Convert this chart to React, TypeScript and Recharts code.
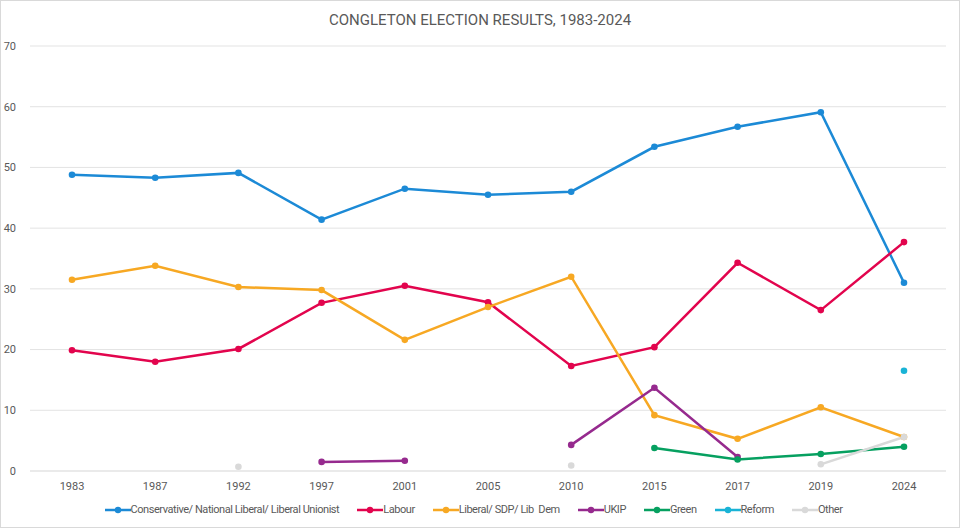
import React from "react";
import {
  LineChart,
  Line,
  XAxis,
  YAxis,
  CartesianGrid,
  Legend,
} from "recharts";

const years = ["1983", "1987", "1992", "1997", "2001", "2005", "2010", "2015", "2017", "2019", "2024"];

const conservative = [48.8, 48.3, 49.1, 41.4, 46.5, 45.5, 46.0, 53.4, 56.7, 59.1, 31.0];
const labour = [19.9, 18.0, 20.1, 27.7, 30.5, 27.8, 17.3, 20.4, 34.3, 26.5, 37.7];
const libDem = [31.5, 33.8, 30.3, 29.8, 21.6, 27.0, 32.0, 9.2, 5.3, 10.5, 5.6];
const ukip = [null, null, null, 1.5, 1.7, null, 4.3, 13.7, 2.3, null, null];
const green = [null, null, null, null, null, null, null, 3.8, 1.9, 2.8, 4.0];
const reform = [null, null, null, null, null, null, null, null, null, null, 16.5];
const other = [null, null, 0.7, null, null, null, 0.9, null, null, 1.1, 5.6];

const yTicks = [0, 10, 20, 30, 40, 50, 60, 70];

const series = [
  { key: "con", name: "Conservative/ National Liberal/ Liberal Unionist", color: "#1c8ad6", values: conservative },
  { key: "lab", name: "Labour", color: "#e2044d", values: labour },
  { key: "ld", name: "Liberal/ SDP/ Lib  Dem", color: "#f7a823", values: libDem },
  { key: "ukip", name: "UKIP", color: "#962a8e", values: ukip },
  { key: "green", name: "Green", color: "#06a060", values: green },
  { key: "reform", name: "Reform", color: "#19b3d6", values: reform },
  { key: "other", name: "Other", color: "#d9d9d9", values: other },
];

const data = years.map((year, i) => {
  const row: Record<string, string | number | null> = { year };
  series.forEach((s) => {
    row[s.key] = s.values[i];
  });
  return row;
});

const font = "Roboto, sans-serif";

function LegendContent() {
  return (
    <div
      style={{
        display: "flex",
        justifyContent: "center",
        gap: 18,
        fontFamily: font,
        fontSize: 11,
        letterSpacing: -0.45,
        color: "#595959",
        whiteSpace: "pre",
      }}
    >
      {series.map((s) => (
        <div key={s.key} style={{ display: "flex", alignItems: "center" }}>
          <svg width={26} height={8}>
            <line x1={0} y1={4} x2={26} y2={4} stroke={s.color} strokeWidth={2.5} />
            <circle cx={13} cy={4} r={3.2} fill={s.color} />
          </svg>
          <span>{s.name}</span>
        </div>
      ))}
    </div>
  );
}

export default function App() {
  return (
    <div
      style={{
        position: "fixed",
        left: 0,
        top: 0,
        width: 960,
        height: 528,
        background: "#fff",
        boxSizing: "border-box",
        border: "1px solid #d9d9d9",
      }}
    >
      <div
        style={{
          position: "absolute",
          top: 10,
          width: "100%",
          textAlign: "center",
          fontFamily: font,
          fontSize: 15,
          color: "#595959",
        }}
      >
        CONGLETON ELECTION RESULTS, 1983-2024
      </div>
      <LineChart
        width={958}
        height={526}
        data={data}
        margin={{ top: 45, right: 13, bottom: 11, left: 0 }}
      >
        <CartesianGrid vertical={false} stroke="#e3e3e3" strokeWidth={1} />
        <XAxis
          dataKey="year"
          axisLine={{ stroke: "#e3e3e3" }}
          tickLine={false}
          tick={{ fill: "#595959", fontSize: 11, fontFamily: font }}
          tickMargin={5}
          height={25}
          padding={{ left: 42, right: 42 }}
        />
        <YAxis
          domain={[0, 70]}
          ticks={yTicks}
          axisLine={false}
          tickLine={false}
          width={29}
          tick={{ fill: "#595959", fontSize: 11, fontFamily: font }}
          tickMargin={8}
        />
        <Legend verticalAlign="bottom" content={<LegendContent />} wrapperStyle={{ paddingTop: 7 }} />
        {series.map((s) => (
          <Line
            key={s.key}
            dataKey={s.key}
            name={s.name}
            stroke={s.color}
            strokeWidth={2.5}
            dot={{ r: 3.3, fill: s.color, stroke: s.color, strokeWidth: 0 }}
            activeDot={false}
            isAnimationActive={false}
            connectNulls={false}
            type="linear"
          />
        ))}
      </LineChart>
    </div>
  );
}
